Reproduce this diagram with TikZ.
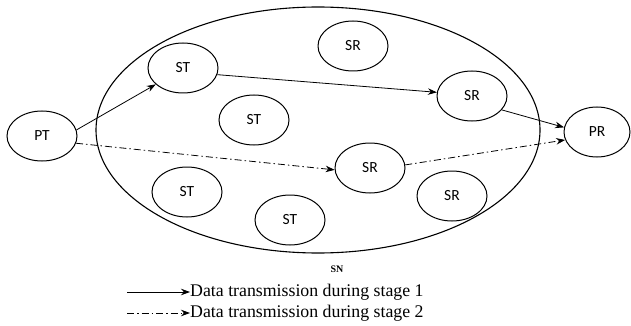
\documentclass[tikz,border=0pt]{standalone}
\usepackage{fontspec}
\setmainfont{Liberation Serif}
\newfontfamily\nodefont{Carlito}
\usetikzlibrary{shapes.geometric,arrows.meta}

\begin{document}
\begin{tikzpicture}[x=1pt,y=-1pt,
  station/.style={draw, ellipse, line width=1pt, minimum width=70pt,
    minimum height=50pt, inner sep=0pt, font=\nodefont\fontsize{15.5}{17}\selectfont},
  link/.style={line width=0.8pt, -{Stealth[length=9pt,width=6.5pt]}},
  linkB/.style={link, dash pattern=on 7pt off 3pt on 1.5pt off 3pt},
  legendtext/.style={anchor=west, inner sep=0pt, font=\fontsize{17.8}{20}\selectfont}]
\useasboundingbox (0,0) rectangle (631,326);

% secondary network boundary
\node[draw, ellipse, line width=1.1pt, minimum width=444pt, minimum height=246pt,
  inner sep=0pt] (sn) at (318,130) {};

% primary pair
\node[station] (pt) at (42,136) {PT};
\node[station, minimum width=66pt] (pr) at (597,132) {PR};

% secondary transmitters
\node[station] (st1) at (183,68) {ST};
\node[station] (st2) at (254,120) {ST};
\node[station] (st3) at (187,192) {ST};
\node[station] (st4) at (290,220) {ST};

% secondary receivers
\node[station] (sr1) at (353,46) {SR};
\node[station] (sr2) at (472,96) {SR};
\node[station] (sr3) at (370,168) {SR};
\node[station] (sr4) at (452,196) {SR};

% stage 1 route
\draw[link] (pt.10) -- (st1.211);
\draw[link] (st1.349) -- (sr2.174);
\draw[link] (sr2.335) -- (pr.172);

% stage 2 route
\draw[linkB] (pt.348) -- (sr3.183);
\draw[linkB] (sr3.5) -- (pr.194);

% legend
\node[font=\bfseries\fontsize{10}{11}\selectfont, inner sep=0pt] (snlabel) at (337,269) {SN};
\coordinate (l1) at (127,292);
\coordinate (l2) at (127,313);
\node[legendtext] (t1) at (190,292) {Data transmission during stage 1};
\node[legendtext] (t2) at (190,313) {Data transmission during stage 2};
\draw[link] (l1) -- (t1.west);
\draw[linkB] (l2) -- (t2.west);
\end{tikzpicture}
\end{document}
